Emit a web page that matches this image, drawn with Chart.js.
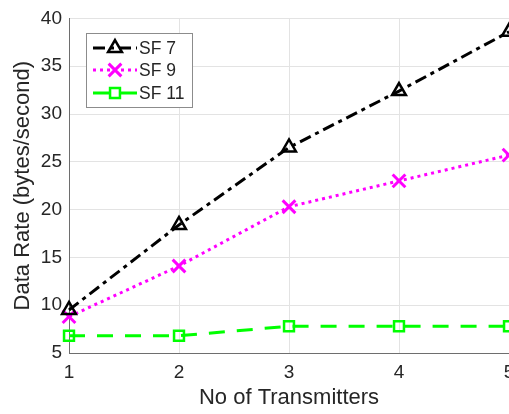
<!DOCTYPE html>
<html>
<head>
<meta charset="utf-8">
<script src="https://cdn.jsdelivr.net/npm/chart.js@4.4.1/dist/chart.umd.min.js"></script>
<style>
  html, body { margin: 0; padding: 0; background: #fff; overflow: hidden; }
  #wrap { width: 509px; height: 414px; overflow: hidden; }
</style>
</head>
<body>
<div id="wrap"><canvas id="chart" width="560" height="414"></canvas></div>
<script>
// values
const transmitters = [1, 2, 3, 4, 5];
const sf7 = [9.5, 18.4, 26.5, 32.4, 38.6];
const sf9 = [8.8, 14.1, 20.3, 23.0, 25.7];
const sf11 = [6.8, 6.8, 7.8, 7.8, 7.8];
const yTicks = [5, 10, 15, 20, 25, 30, 35, 40];

const FONT = "'Liberation Sans', Arial, sans-serif";
const TEXT = "#262626";

function pts(ys) {
    return ys.map((y, i) => ({ x: transmitters[i], y: y }));
}

// MATLAB-like legend box drawn inside the axes
const boxLegend = {
    id: "boxLegend",
    afterDraw(chart) {
        const ctx = chart.ctx;
        const x0 = 86, y0 = 33, w = 106, h = 74;
        ctx.save();
        ctx.fillStyle = "#fff";
        ctx.fillRect(x0, y0, w, h);
        ctx.strokeStyle = "#8c8c8c";
        ctx.lineWidth = 1;
        ctx.strokeRect(x0 + 0.5, y0 + 0.5, w, h);
        const rows = [48, 70, 93];
        chart.data.datasets.forEach((ds, i) => {
            const y = rows[i];
            ctx.strokeStyle = ds.borderColor;
            ctx.lineWidth = ds.borderWidth;
            ctx.setLineDash(ds.borderDash);
            ctx.beginPath();
            ctx.moveTo(93, y);
            ctx.lineTo(137, y);
            ctx.stroke();
            ctx.setLineDash([]);
            ctx.fillStyle = "rgba(0,0,0,0)";
            ctx.lineWidth = ds.pointBorderWidth;
            Chart.helpers.drawPoint(ctx, {
                pointStyle: ds.pointStyle,
                radius: ds.pointRadius,
                borderWidth: ds.pointBorderWidth,
                rotation: 0
            }, 115, y);
            ctx.fillStyle = TEXT;
            ctx.font = "17.5px " + FONT;
            ctx.textBaseline = "middle";
            ctx.textAlign = "left";
            ctx.fillText(ds.label, 139, y + 1);
        });
        ctx.restore();
    }
};

const ctx = document.getElementById("chart").getContext("2d");
new Chart(ctx, {
    type: "line",
    data: {
        datasets: [
            {
                label: "SF 7",
                data: pts(sf7),
                borderColor: "#000000",
                borderWidth: 3,
                borderDash: [12, 5, 4, 5],
                pointStyle: "triangle",
                pointRadius: 8,
                pointBorderWidth: 2.5,
                pointBorderColor: "#000000",
                pointBackgroundColor: "rgba(0,0,0,0)"
            },
            {
                label: "SF 9",
                data: pts(sf9),
                borderColor: "#ff00ff",
                borderWidth: 3,
                borderDash: [3, 4],
                pointStyle: "crossRot",
                pointRadius: 9,
                pointBorderWidth: 3,
                pointBorderColor: "#ff00ff",
                pointBackgroundColor: "rgba(0,0,0,0)"
            },
            {
                label: "SF 11",
                data: pts(sf11),
                borderColor: "#00ff00",
                borderWidth: 3,
                borderDash: [16, 12],
                pointStyle: "rect",
                pointRadius: 7,
                pointBorderWidth: 2.5,
                pointBorderColor: "#00ff00",
                pointBackgroundColor: "rgba(0,0,0,0)"
            }
        ]
    },
    options: {
        responsive: false,
        animation: false,
        clip: false,
        layout: { padding: { top: 18, right: 51, left: 0, bottom: 0 } },
        plugins: {
            legend: { display: false },
            tooltip: { enabled: false }
        },
        scales: {
            x: {
                type: "linear",
                min: 1,
                max: 5,
                afterBuildTicks(scale) {
                    scale.ticks = transmitters.map(v => ({ value: v }));
                },
                afterFit(scale) { scale.height = 61; },
                grid: { color: "#e3e3e3", drawTicks: false },
                border: { color: "#6e6e6e", width: 1 },
                ticks: {
                    color: TEXT,
                    padding: 8,
                    maxRotation: 0,
                    font: { family: FONT, size: 19 }
                },
                title: {
                    display: true,
                    text: "No of Transmitters",
                    color: TEXT,
                    padding: { top: 2, bottom: 3 },
                    font: { family: FONT, size: 22 }
                }
            },
            y: {
                min: 5,
                max: 40,
                afterBuildTicks(scale) {
                    scale.ticks = yTicks.map(v => ({ value: v }));
                },
                afterFit(scale) { scale.width = 69; },
                grid: { color: "#e3e3e3", drawTicks: false },
                border: { color: "#6e6e6e", width: 1 },
                ticks: {
                    color: TEXT,
                    padding: 7,
                    font: { family: FONT, size: 19 }
                },
                title: {
                    display: true,
                    text: "Data Rate (bytes/second)",
                    color: TEXT,
                    padding: { top: 10, bottom: 4 },
                    font: { family: FONT, size: 22 }
                }
            }
        }
    },
    plugins: [boxLegend]
});
</script>
</body>
</html>
